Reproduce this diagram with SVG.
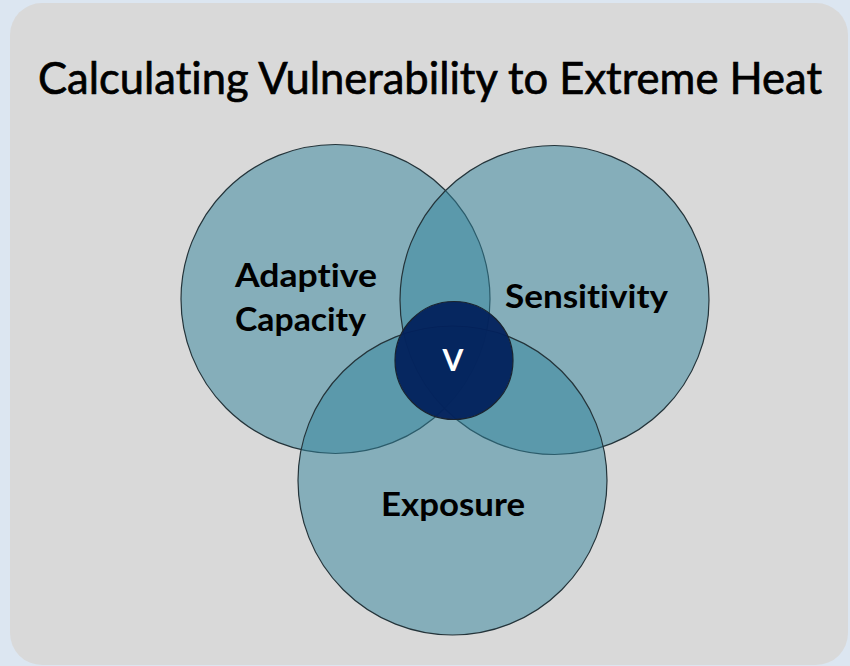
<svg xmlns="http://www.w3.org/2000/svg" width="850" height="666" viewBox="0 0 850 666">
  <style>
    text { font-variant-ligatures: none; font-feature-settings: "liga" 0, "clig" 0; }
    .set { fill: #31839b; fill-opacity: 0.5; stroke: #24343a; stroke-width: 1.2; }
    .lbl { font-family: Lato, "Open Sans", "Liberation Sans", sans-serif; font-weight: bold; font-size: 32px; fill: #000; }
    .title { font-family: Lato, "Open Sans", "Liberation Sans", sans-serif; font-size: 45px; fill: #000; stroke: #000; stroke-width: 0.7; }
  </style>
  <rect x="0" y="0" width="850" height="666" fill="#dce6f1"/>
  <rect x="10" y="3" width="838" height="662" rx="32" ry="32" fill="#d9d9d9"/>
  <text class="title" x="38" y="94" textLength="784" lengthAdjust="spacingAndGlyphs">Calculating Vulnerability to Extreme Heat</text>
  <g id="adaptive-capacity">
    <circle class="set" cx="335.5" cy="299" r="154.5"/>
  </g>
  <g id="sensitivity">
    <circle class="set" cx="554.5" cy="300" r="154.5"/>
  </g>
  <g id="exposure">
    <circle class="set" cx="452.5" cy="480.5" r="154.5"/>
  </g>
  <g id="v">
    <circle cx="454" cy="360.5" r="59" fill="#02215c" fill-opacity="0.95" stroke="#1a2430" stroke-width="1.2"/>
    <text x="453" y="371" text-anchor="middle" font-family="Lato, 'Open Sans', 'Liberation Sans', sans-serif" font-weight="bold" font-size="30" fill="#ffffff">V</text>
  </g>
  <g id="labels">
    <text class="lbl" x="235" y="287" textLength="142" lengthAdjust="spacingAndGlyphs">Adaptive</text>
    <text class="lbl" x="235" y="331" textLength="131" lengthAdjust="spacingAndGlyphs">Capacity</text>
    <text class="lbl" x="505" y="308" textLength="163" lengthAdjust="spacingAndGlyphs">Sensitivity</text>
    <text class="lbl" x="381" y="516" textLength="144" lengthAdjust="spacingAndGlyphs">Exposure</text>
  </g>
  <g id="connectors"/>
</svg>
